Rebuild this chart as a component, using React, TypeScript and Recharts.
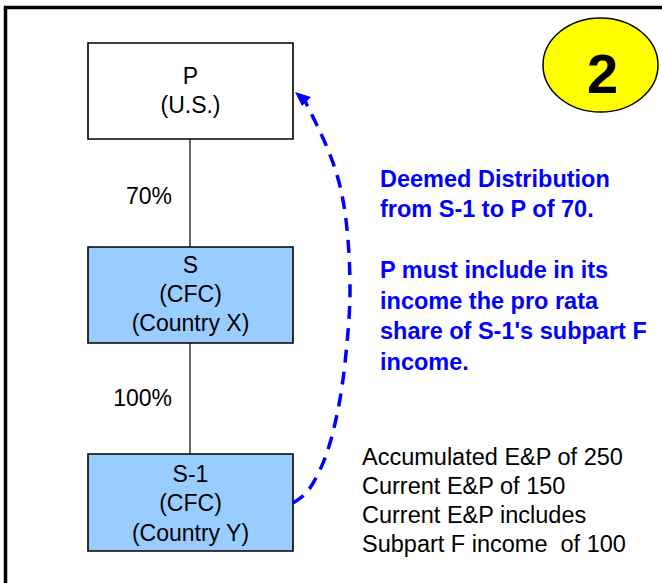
import {
  ComposedChart,
  XAxis,
  YAxis,
  Line,
  Scatter,
  ReferenceArea,
  ReferenceLine,
} from 'recharts';

// diagram content
const entities = ['P', 'S', 'S-1'];
const entityTypes = ['(U.S.)', '(CFC)', '(CFC)'];
const entityCountries = ['', '(Country X)', '(Country Y)'];
const ownershipPct = ['70%', '100%'];
const distributionNote = ['Deemed Distribution', 'from S-1 to P of 70.'];
const inclusionNote = [
  'P must include in its',
  'income the pro rata',
  "share of S-1's subpart F",
  'income.',
];
const epFacts = [
  'Accumulated E&P of 250',
  'Current E&P of 150',
  'Current E&P includes',
  'Subpart F income  of 100',
];
const stepNumber = '2';

// layout (pixel space of the 662x583 canvas)
const W = 662;
const H = 583;
const BOX_LEFT = 88;
const BOX_RIGHT = 293;
const BOX_CX = (BOX_LEFT + BOX_RIGHT) / 2;
const boxTops = [43, 247, 454];
const boxBottoms = [139, 343, 551];
const boxFills = ['#FFFFFF', '#99CCFF', '#99CCFF'];
const boxFirstBaseline = [83.5, 272.5, 482];
const BOX_LINE = 29.3;
const pctBaselines = [203.5, 405.5];
const NOTE_X = 380;
const distributionBaselines = [187, 217.3];
const inclusionBaselines = [278, 308.5, 339, 369.5];
const FACT_X = 362;
const factBaselines = [465, 494, 523, 552];
const stepCenter = { x: 600.5, y: 65 };
// dashed arrow, from S-1 up to P
const arrowPath = [
  { x: 293, y: 503 },
  { x: 306, y: 493 },
  { x: 318, y: 474 },
  { x: 330, y: 443 },
  { x: 341, y: 393 },
  { x: 347, y: 343 },
  { x: 350, y: 290 },
  { x: 346, y: 220 },
  { x: 332, y: 160 },
  { x: 305, y: 101 },
];
const arrowTip = [{ x: 295, y: 92 }];

const FONT = '"Liberation Sans", Arial, sans-serif';

const boxLabelPts = entities.flatMap((name, i) =>
  [name, entityTypes[i], entityCountries[i]]
    .filter(Boolean)
    .map((text, j) => ({ x: BOX_CX, y: boxFirstBaseline[i] + j * BOX_LINE, text }))
);
const pctPts = ownershipPct.map((text, i) => ({ x: 172, y: pctBaselines[i], text }));
const notePts = [
  ...distributionNote.map((text, i) => ({ x: NOTE_X, y: distributionBaselines[i], text })),
  ...inclusionNote.map((text, i) => ({ x: NOTE_X, y: inclusionBaselines[i], text })),
];
const factPts = epFacts.map((text, i) => ({ x: FACT_X, y: factBaselines[i], text }));
const stepPts = [{ ...stepCenter, text: stepNumber }];

const CenterText = (p: any) => (
  <text x={p.cx} y={p.cy} textAnchor="middle" fontFamily={FONT} fontSize={23} fill="#000">
    {p.payload.text}
  </text>
);

const EndText = (p: any) => (
  <text x={p.cx} y={p.cy} textAnchor="end" fontFamily={FONT} fontSize={23} fill="#000">
    {p.payload.text}
  </text>
);

const BlueNote = (p: any) => (
  <text x={p.cx} y={p.cy} fontFamily={FONT} fontSize={23.5} fontWeight="bold" fill="#0000FF">
    {p.payload.text}
  </text>
);

const FactText = (p: any) => (
  <text x={p.cx} y={p.cy} fontFamily={FONT} fontSize={23.5} fill="#000" style={{ whiteSpace: 'pre' }}>
    {p.payload.text}
  </text>
);

const StepBadge = (p: any) => (
  <g>
    <ellipse cx={p.cx} cy={p.cy} rx={57.5} ry={47} fill="#FFFF00" stroke="#000" strokeWidth={1.5} />
    <text x={p.cx + 2} y={p.cy + 28} textAnchor="middle" fontFamily={FONT} fontSize={56} fontWeight="bold" fill="#000">
      {p.payload.text}
    </text>
  </g>
);

const ArrowHead = (p: any) => (
  <polygon
    points={`${p.cx},${p.cy} ${p.cx + 16},${p.cy + 5} ${p.cx + 7},${p.cy + 14}`}
    fill="#0000FF"
  />
);

export default function App() {
  return (
    <div style={{ position: 'absolute', left: 0, top: 0, background: '#fff' }}>
      <ComposedChart width={W} height={H} margin={{ top: 0, right: 0, bottom: 0, left: 0 }}>
        <XAxis type="number" dataKey="x" domain={[0, W]} allowDataOverflow hide />
        <YAxis type="number" dataKey="y" domain={[0, H]} allowDataOverflow reversed hide />

        {/* frame */}
        <ReferenceLine
          segment={[{ x: 4, y: 7.5 }, { x: W, y: 7.5 }]}
          stroke="#000"
          strokeWidth={3.5}
          ifOverflow="visible"
        />
        <ReferenceLine
          segment={[{ x: 5.5, y: 6 }, { x: 5.5, y: H }]}
          stroke="#000"
          strokeWidth={3.5}
          ifOverflow="visible"
        />

        {/* ownership connectors */}
        {boxTops.slice(1).map((top, i) => (
          <ReferenceLine
            key={`link-${i}`}
            segment={[{ x: BOX_CX - 0.5, y: boxBottoms[i] }, { x: BOX_CX - 0.5, y: top }]}
            stroke="#000"
            strokeWidth={1.2}
            ifOverflow="visible"
          />
        ))}

        {entities.map((name, i) => (
          <ReferenceArea
            key={name}
            x1={BOX_LEFT}
            x2={BOX_RIGHT}
            y1={boxTops[i]}
            y2={boxBottoms[i]}
            fill={boxFills[i]}
            fillOpacity={1}
            stroke="#000"
            strokeWidth={1.6}
            ifOverflow="visible"
          />
        ))}

        <Line
          data={arrowPath}
          dataKey="y"
          type="natural"
          stroke="#0000FF"
          strokeWidth={3.5}
          strokeDasharray="13 9"
          dot={false}
          activeDot={false}
          isAnimationActive={false}
        />
        <Scatter data={arrowTip} shape={ArrowHead} isAnimationActive={false} />

        <Scatter data={boxLabelPts} shape={CenterText} isAnimationActive={false} />
        <Scatter data={pctPts} shape={EndText} isAnimationActive={false} />
        <Scatter data={notePts} shape={BlueNote} isAnimationActive={false} />
        <Scatter data={factPts} shape={FactText} isAnimationActive={false} />
        <Scatter data={stepPts} shape={StepBadge} isAnimationActive={false} />
      </ComposedChart>
    </div>
  );
}
